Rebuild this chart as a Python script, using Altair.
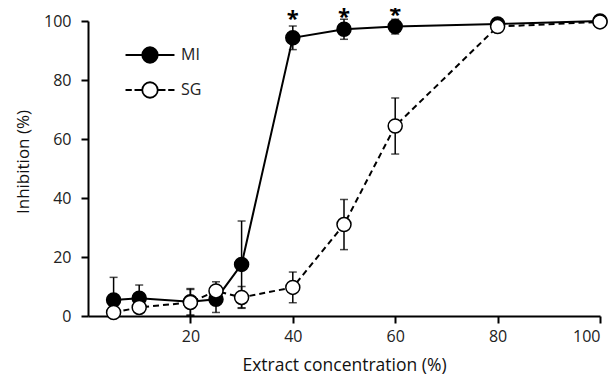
import altair as alt
import pandas as pd

conc = [5, 10, 20, 25, 30, 40, 50, 60, 80, 100]
mi_mean = [5.4, 6.0, 4.8, 5.7, 17.5, 94.3, 97.2, 98.1, 99.0, 100.0]
mi_sd = [7.7, 4.5, 4.5, 4.5, 14.7, 4.0, 3.4, 2.5, 1.0, 0.0]
sg_mean = [1.2, 2.9, 4.6, 8.5, 6.3, 9.7, 31.0, 64.4, 98.1, 99.7]
sg_sd = [1.0, 1.0, 4.4, 3.1, 3.7, 5.2, 8.5, 9.5, 1.0, 0.0]
series = ["MI", "SG"]
star_x = [40, 50, 60]
star_y = [100.6, 101.2, 101.9]

rows = []
for name, means, sds in [("MI", mi_mean, mi_sd), ("SG", sg_mean, sg_sd)]:
    for c, m, s in zip(conc, means, sds):
        rows.append({"conc": c, "val": m, "lo": max(0.0, m - s), "hi": m + s, "series": name})
df = pd.DataFrame(rows)
stars = pd.DataFrame({"conc": star_x, "y": star_y})

FONT = "Open Sans"
xs = alt.Scale(domain=[0, 100], nice=False)
ys = alt.Scale(domain=[0, 100], nice=False)
fill_scale = alt.Scale(domain=series, range=["black", "white"])

x_enc = alt.X("conc:Q", scale=xs, axis=alt.Axis(
    values=[20, 40, 60, 80, 100], title="Extract concentration (%)",
    grid=False, domainColor="black", domainWidth=2, tickColor="black", tickWidth=2,
    tickSize=7, labelFontSize=16, labelColor="#222", labelFont=FONT, labelPadding=5,
    titleFont=FONT, titleFontSize=17.5, titleFontWeight="normal", titleColor="#111",
    titleX=256, titleY=49, titleBaseline="middle", titleAlign="center"))
y_enc = alt.Y("val:Q", scale=ys, axis=alt.Axis(
    values=[0, 20, 40, 60, 80, 100], title="Inhibition (%)",
    grid=False, domainColor="black", domainWidth=2, tickColor="black", tickWidth=2,
    tickSize=7, labelFontSize=16, labelColor="#222", labelFont=FONT, labelPadding=10,
    titleFont=FONT, titleFontSize=17, titleFontWeight="normal", titleColor="#111",
    titleX=-65, titleY=140.5, titleAngle=-90, titleBaseline="middle", titleAlign="center"))

base = alt.Chart(df)

rules = base.mark_rule(color="black", strokeWidth=1.5).encode(
    x=alt.X("conc:Q", scale=xs), y=alt.Y("lo:Q", scale=ys), y2="hi:Q")
cap_lo = base.mark_tick(color="black", orient="horizontal", size=8, thickness=1.5).encode(
    x=alt.X("conc:Q", scale=xs), y=alt.Y("lo:Q", scale=ys))
cap_hi = base.mark_tick(color="black", orient="horizontal", size=8, thickness=1.5).encode(
    x=alt.X("conc:Q", scale=xs), y=alt.Y("hi:Q", scale=ys))

line_mi = base.transform_filter(alt.datum.series == "MI").mark_line(
    color="black", strokeWidth=2).encode(x=x_enc, y=y_enc)
line_sg = base.transform_filter(alt.datum.series == "SG").mark_line(
    color="black", strokeWidth=2, strokeDash=[6, 4]).encode(x=x_enc, y=y_enc)

u = 3.16
mi_path = f"M{-u},0L-1,0M1,0L{u},0M-1,0A1,1,0,1,1,1,0A1,1,0,1,1,-1,0Z"
sg_path = (f"M{-u},0L-2.35,0M-2.0,0L-1.0,0M1.0,0L2.0,0M2.35,0L{u},0"
           "M-1,0A1,1,0,1,1,1,0A1,1,0,1,1,-1,0Z")

leg = alt.Legend(
    title=None, orient="none", legendX=53, legendY=25, padding=0,
    symbolSize=240, symbolStrokeWidth=1.8, symbolStrokeColor="black",
    symbolOpacity=1, labelFont=FONT, labelFontSize=16, labelColor="#222",
    labelOffset=22, rowPadding=11)

# invisible layer that only supplies the legend
legend_layer = base.mark_point(filled=False, size=240, strokeWidth=1.8, opacity=0).encode(
    x=alt.X("conc:Q", scale=xs), y=alt.Y("val:Q", scale=ys),
    fill=alt.Fill("series:N", scale=fill_scale, legend=leg),
    stroke=alt.Stroke("series:N", scale=alt.Scale(domain=series, range=["black", "black"]), legend=leg),
    shape=alt.Shape("series:N", scale=alt.Scale(domain=series, range=[mi_path, sg_path]), legend=leg))

points = base.mark_point(filled=True, size=196, stroke="black", strokeWidth=1.5, opacity=1).encode(
    x=alt.X("conc:Q", scale=xs), y=alt.Y("val:Q", scale=ys),
    fill=alt.Fill("series:N", scale=fill_scale, legend=None),
    order=alt.Order("series:N"))

star_layer = alt.Chart(stars).mark_text(text="*", fontSize=22, fontWeight="bold", font=FONT,
                                        color="black", baseline="middle").encode(
    x=alt.X("conc:Q", scale=xs), y=alt.Y("y:Q", scale=ys))

chart = alt.layer(legend_layer, rules, cap_lo, cap_hi, line_mi, line_sg, points, star_layer).properties(
    width=512, height=295,
    padding={"left": 80, "top": 13, "right": 8, "bottom": 60},
    autosize=alt.AutoSizeParams(type="none"),
).configure_view(stroke=None)

chart.save("out.html", embed_options={"renderer": "svg", "actions": False})
